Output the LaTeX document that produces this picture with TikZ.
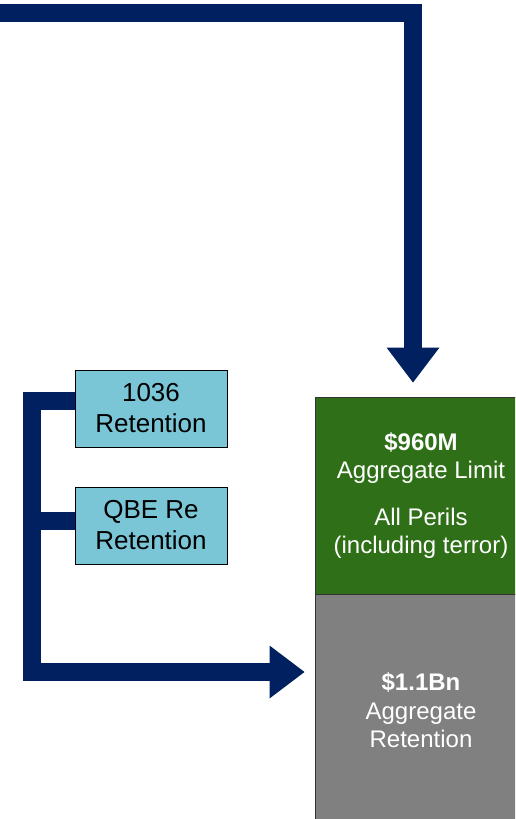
\documentclass[tikz,border=0pt]{standalone}
\usepackage{fontspec}
\setmainfont{Liberation Sans}
\usetikzlibrary{arrows.meta,calc}
\definecolor{navy}{RGB}{0,32,96}
\definecolor{limgreen}{RGB}{47,111,24}
\definecolor{retgray}{RGB}{128,128,128}
\definecolor{lblue}{RGB}{122,198,214}
\tikzset{
  retbox/.style={draw=black, line width=1pt, fill=lblue, minimum width=152pt, minimum height=77pt,
    align=center, inner sep=0pt, font=\fontsize{26}{31}\selectfont},
  layerbox/.style={draw=black!80, line width=1pt, minimum width=212pt, align=center, inner sep=0pt,
    text=white, font=\fontsize{24}{28.5}\selectfont},
  bigline/.style={draw=navy, line width=18pt, line join=miter},
  bigarrow/.style={bigline, -{Triangle[width=53pt,length=35pt,line width=0pt]}}
}
\begin{document}
\begin{tikzpicture}[x=1pt,y=-1pt]
\useasboundingbox (0,0) rectangle (515,819);
\clip (0,0) rectangle (515,819);
\node[layerbox, fill=limgreen, minimum height=197pt] (lim) at (421,495.5)
  {\textbf{\$960M}\\Aggregate Limit\\[18pt]All Perils\\(including terror)};
\node[layerbox, fill=retgray, minimum height=233pt] (ret) at (421,710.5)
  {\textbf{\$1.1Bn}\\Aggregate\\Retention};
\node[retbox] (r1) at (151,408.5) {1036\\Retention};
\node[retbox] (r2) at (151,525.5) {QBE Re\\Retention};
\coordinate (tstart) at (-10,13);
\coordinate (ttip) at ($(lim.north)+(-8,-14)$);
\coordinate (ltip) at ($(ret.west)+(-10,-38.5)$);
\draw[bigarrow] (tstart) -| (ttip);
\draw[bigarrow] ($(r1.west)+(0,-8)$) -- ++(-43,0) |- (ltip);
\draw[bigline] ($(r2.west)+(0,-5)$) -- ++(-43,0);
\end{tikzpicture}
\end{document}
